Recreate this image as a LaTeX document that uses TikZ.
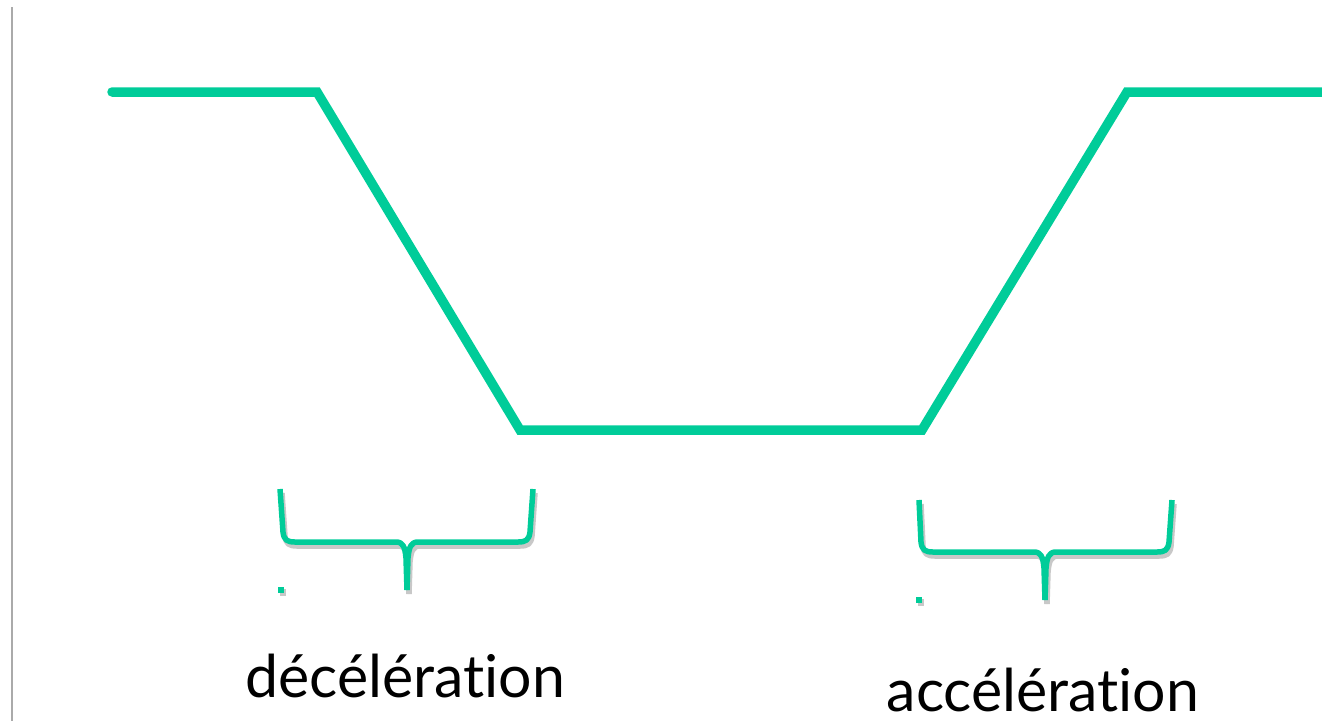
\documentclass[tikz,border=0pt]{standalone}
\usepackage{fontspec}
\setmainfont{Lato}[Ligatures=NoCommon]
\definecolor{vgreen}{RGB}{0,204,153}
\definecolor{shadowgray}{RGB}{200,200,200}
\definecolor{axisgray}{RGB}{170,170,170}
\tikzset{
  speedline/.style={draw=vgreen, line width=9.5pt, line cap=round, line join=miter},
  bracestroke/.style={draw=vgreen, line width=5.5pt, line cap=butt, line join=round},
  braceshadow/.style={draw=shadowgray, line width=5.5pt, line cap=butt, line join=round},
  label/.style={font=\fontsize{59}{64}\selectfont, anchor=base, inner sep=0pt},
}
\begin{document}
\begin{tikzpicture}[x=1pt,y=-1pt]
\useasboundingbox (0,0) rectangle (1322,721);
% axis
\draw[axisgray, line width=2pt] (12,7) -- (12,721);
% speed profile
\coordinate (p0) at (112,92);
\coordinate (p1) at (317,92);
\coordinate (p2) at (520,430);
\coordinate (p3) at (922,430);
\coordinate (p4) at (1127,92);
\coordinate (p5) at (1330,92);
\draw[speedline] (p0) -- (p1) -- (p2) -- (p3) -- (p4) -- (p5);
% left brace
\foreach \dx/\dy/\sty in {2/4/braceshadow, 0/0/bracestroke} {
  \begin{scope}[shift={(\dx,\dy)}]
  \draw[\sty] (280,489) -- (283,532) .. controls (284,540) and (287,542) .. (295,542)
     -- (396,542) .. controls (403,542) and (405,547) .. (406,558) -- (407,590);
  \draw[\sty] (407,590) -- (408,558) .. controls (409,547) and (411,542) .. (418,542)
     -- (518,542) .. controls (526,542) and (529,540) .. (530,532) -- (533,489);
  \end{scope}
}
% right brace
\foreach \dx/\dy/\sty in {2/4/braceshadow, 0/0/bracestroke} {
  \begin{scope}[shift={(\dx,\dy)}]
  \draw[\sty] (919,500) -- (921,542) .. controls (922,550) and (925,552) .. (933,552)
     -- (1034,552) .. controls (1041,552) and (1043,557) .. (1044,568) -- (1045,600);
  \draw[\sty] (1045,600) -- (1046,568) .. controls (1047,557) and (1049,552) .. (1056,552)
     -- (1157,552) .. controls (1165,552) and (1168,550) .. (1169,542) -- (1172,500);
  \end{scope}
}
% small ticks
\fill[shadowgray] (280,589) rectangle (286,596);
\fill[vgreen] (278,587) rectangle (284,593);
\fill[shadowgray] (918,599) rectangle (924,606);
\fill[vgreen] (916,597) rectangle (922,603);
% labels
\node[label] (dec) at (405,697) {décélération};
\node[label] (acc) at (1043,711) {accélération};
\end{tikzpicture}
\end{document}
